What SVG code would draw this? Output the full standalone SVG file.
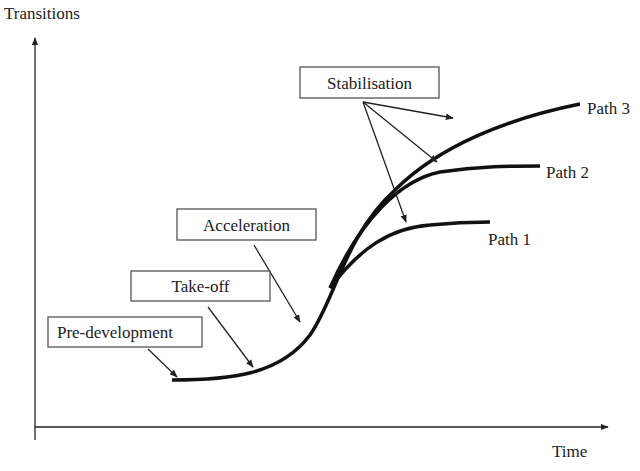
<svg xmlns="http://www.w3.org/2000/svg" width="640" height="471" viewBox="0 0 640 471">
<style>
text{font-family:"Liberation Serif","DejaVu Serif",serif;font-size:17px;fill:#222}
.box{fill:#fff;stroke:#555;stroke-width:1.3}
.ar{stroke:#222;stroke-width:1.3;fill:none;marker-end:url(#a)}
.cv{stroke:#111;stroke-width:3.5;fill:none}
</style>
<defs><marker id="a" viewBox="0 0 10 10" refX="9" refY="5" markerWidth="8" markerHeight="8" orient="auto-start-reverse" markerUnits="userSpaceOnUse"><path d="M0,1 L10,5 L0,9 Z" fill="#222"/></marker></defs>
<g id="axes">
<line x1="35" y1="440" x2="35" y2="38" class="ar"/>
<line x1="35" y1="427" x2="608" y2="427" class="ar"/>
<text x="4" y="19">Transitions</text>
<text x="552" y="457">Time</text>
</g>
<g id="curves">
<path class="cv" d="M172,380 C230,380 280,375 310,335 C335,300 345,235 395,190 C440,145 510,118 580,104"/>
<path class="cv" d="M330,288 C360,220 400,180 440,172 C480,166 510,166 540,166"/>
<path class="cv" d="M330,288 C360,248 390,228 430,225 C460,222 475,222 490,222"/>
</g>
<g id="connectors">
<line x1="363" y1="102" x2="453" y2="118" class="ar"/>
<line x1="363" y1="102" x2="437" y2="162" class="ar"/>
<line x1="363" y1="102" x2="406" y2="222" class="ar"/>
<line x1="254" y1="245" x2="300" y2="322" class="ar"/>
<line x1="208" y1="307" x2="253" y2="367" class="ar"/>
<line x1="148" y1="349" x2="177" y2="377" class="ar"/>
</g>
<g id="stabilisation"><rect class="box" x="300" y="67" width="139" height="31"/><text x="369.5" y="89" text-anchor="middle">Stabilisation</text></g>
<g id="acceleration"><rect class="box" x="177" y="209" width="139" height="31"/><text x="246.5" y="231" text-anchor="middle">Acceleration</text></g>
<g id="takeoff"><rect class="box" x="131" y="271" width="139" height="30"/><text x="200.5" y="292" text-anchor="middle">Take-off</text></g>
<g id="predev"><rect class="box" x="48" y="317" width="154" height="30"/><text x="115" y="338" text-anchor="middle">Pre-development</text></g>
<g id="labels">
<text x="587" y="114">Path 3</text>
<text x="546" y="178">Path 2</text>
<text x="488" y="245">Path 1</text>
</g>
</svg>
